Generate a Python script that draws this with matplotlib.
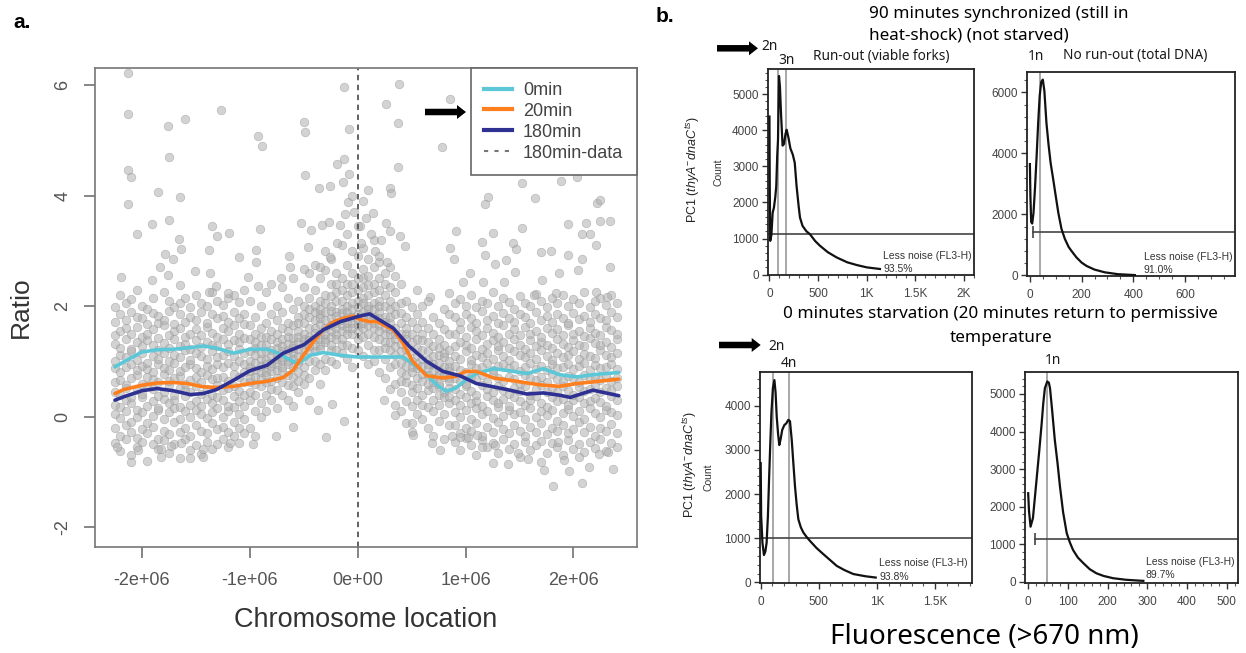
import numpy as np
import matplotlib
matplotlib.use("Agg")
import matplotlib.pyplot as plt
from matplotlib.patches import FancyArrow
from matplotlib.lines import Line2D
from matplotlib.transforms import Affine2D
from matplotlib.ticker import MultipleLocator

plt.rcParams["font.family"] = ["Liberation Sans", "DejaVu Sans"]
plt.rcParams["mathtext.fontset"] = "custom"
plt.rcParams["mathtext.rm"] = "Liberation Sans"
plt.rcParams["mathtext.it"] = "Liberation Sans:italic"
SANS = ["Noto Sans", "DejaVu Sans"]

W, H = 1246, 653

# ---------------------------------------------------------------- panel a data
# smoothed copy-number ratio along the chromosome (position in Mb)
pos_0min = [-2.25, -2.17, -2.00, -1.86, -1.71, -1.55, -1.43, -1.31, -1.15, -1.00, -0.84, -0.75,
            -0.63, -0.55, -0.44, -0.32, -0.16, 0.00, 0.18, 0.33, 0.42, 0.51, 0.64, 0.73, 0.82,
            0.91, 1.00, 1.10, 1.26, 1.41, 1.57, 1.72, 1.87, 2.03, 2.18, 2.42]
ratio_0min = [0.90, 0.99, 1.17, 1.21, 1.22, 1.25, 1.28, 1.24, 1.15, 1.22, 1.22, 1.16,
              1.03, 0.96, 1.11, 1.16, 1.11, 1.08, 1.08, 1.08, 1.08, 0.96, 0.76, 0.58, 0.46,
              0.52, 0.66, 0.78, 0.87, 0.83, 0.78, 0.87, 0.76, 0.72, 0.76, 0.80]

pos_20min = [-2.25, -2.17, -2.00, -1.86, -1.71, -1.58, -1.43, -1.31, -1.15, -1.00, -0.84, -0.69,
             -0.60, -0.50, -0.41, -0.32, -0.22, -0.13, -0.04, 0.02, 0.11, 0.18, 0.33, 0.42,
             0.51, 0.64, 0.79, 0.91, 1.00, 1.10, 1.26, 1.41, 1.57, 1.72, 1.87, 2.03, 2.18, 2.42]
ratio_20min = [0.42, 0.49, 0.57, 0.61, 0.62, 0.60, 0.54, 0.53, 0.55, 0.60, 0.64, 0.71,
               0.84, 1.12, 1.36, 1.57, 1.72, 1.78, 1.82, 1.76, 1.72, 1.72, 1.57, 1.33,
               1.00, 0.74, 0.70, 0.73, 0.82, 0.82, 0.70, 0.66, 0.61, 0.57, 0.55, 0.60, 0.63, 0.68]

pos_180min = [-2.25, -2.17, -2.00, -1.86, -1.71, -1.55, -1.43, -1.31, -1.15, -1.00, -0.84, -0.69,
              -0.50, -0.32, -0.16, 0.00, 0.11, 0.33, 0.48, 0.64, 0.79, 0.95, 1.10, 1.26, 1.41,
              1.57, 1.72, 1.87, 1.97, 2.18, 2.42]
ratio_180min = [0.30, 0.36, 0.47, 0.51, 0.47, 0.40, 0.42, 0.49, 0.66, 0.83, 0.93, 1.15,
                1.30, 1.57, 1.72, 1.81, 1.86, 1.60, 1.27, 1.00, 0.82, 0.74, 0.60, 0.54, 0.48,
                0.41, 0.43, 0.39, 0.35, 0.48, 0.38]

# per-probe ratios, grouped by position (Mb); values are ratio x 100
cloud_pos = [-2.25, -2.20, -2.15, -2.10, -2.05, -2.00, -1.95, -1.90, -1.85, -1.80, -1.75, -1.70,
             -1.65, -1.60, -1.55, -1.50, -1.45, -1.40, -1.35, -1.30, -1.25, -1.20, -1.15, -1.10,
             -1.05, -1.00, -0.95, -0.90, -0.85, -0.80, -0.75, -0.70, -0.65, -0.60, -0.55,
             -0.50, -0.45, -0.40, -0.35, -0.30, -0.25, -0.20, -0.15, -0.10, -0.05, 0.00, 0.05,
             0.10, 0.15, 0.20, 0.25, 0.30, 0.35, 0.40, 0.45, 0.50, 0.55, 0.60, 0.65, 0.70, 0.75,
             0.80, 0.85, 0.90, 0.95, 1.00, 1.05, 1.10, 1.15, 1.20, 1.25, 1.30, 1.35, 1.40, 1.45,
             1.50, 1.55, 1.60, 1.65, 1.70, 1.75, 1.80, 1.85, 1.90, 1.95, 2.00, 2.05, 2.10, 2.15,
             2.20, 2.25, 2.30, 2.35, 2.40]
cloud_ratio_x100 = [
    [-48, -20, 5, 22, 45, 63, 88, 100, 131, 148, 172, 198],
    [-62, -35, -2, 18, 40, 66, 80, 112, 125, 155, 185, 220],
    [-40, -15, 10, 30, 52, 58, 90, 108, 140, 160, 175, 205],
    [-70, -28, -10, 25, 35, 70, 95, 118, 122, 150, 190, 212],
    [-55, -38, 0, 12, 48, 75, 84, 102, 135, 162, 180, 230],
    [-45, -22, 8, 35, 42, 60, 92, 115, 128, 145, 178, 200],
    [-80, -30, -12, 20, 55, 72, 86, 98, 138, 150, 168, 195],
    [-50, -18, 2, 28, 50, 68, 80, 110, 130, 158, 188, 215],
    [-58, -40, 12, 15, 38, 62, 95, 105, 120, 142, 170, 182],
    [-42, -25, -5, 32, 45, 78, 88, 116, 134, 165, 175, 225],
    [-65, -32, 8, 25, 58, 65, 85, 100, 125, 148, 192, 210],
    [-50, -10, 15, 30, 40, 70, 98, 112, 140, 155, 168, 198],
    [-75, -28, -5, 18, 52, 74, 82, 108, 128, 160, 185, 205],
    [-40, -20, 10, 38, 48, 60, 90, 120, 132, 145, 172, 215],
    [-60, -35, 0, 22, 45, 66, 95, 102, 122, 150, 180, 198],
    [-52, -15, 12, 28, 55, 72, 88, 115, 138, 158, 175, 220],
    [-68, -25, 5, 20, 42, 62, 80, 110, 126, 148, 190, 205],
    [-45, -30, -2, 32, 50, 76, 92, 105, 135, 162, 170, 200],
    [-58, -12, 8, 25, 40, 68, 86, 118, 130, 152, 185, 225],
    [-50, -22, 15, 35, 58, 70, 95, 108, 128, 145, 178, 210],
    [-40, -18, 0, 30, 48, 72, 90, 112, 140, 160, 182, 202],
    [-55, -28, 10, 20, 52, 65, 98, 118, 132, 155, 172, 215],
    [-35, -10, 18, 38, 55, 78, 92, 110, 138, 165, 190, 220],
    [-48, -20, 5, 28, 46, 72, 100, 122, 135, 150, 178, 208],
    [-30, -5, 20, 40, 62, 80, 96, 115, 142, 168, 185, 230],
    [90, 45, 140, 70, -20, 118, 165, 30, 100, 62, 210, 82],
    [60, 125, 85, 10, 150, 98, 40, 180, 72, -35, 112, 135],
    [105, 70, 160, 25, 92, 130, 55, 200, 80, 115, 0, 145],
    [80, 145, 40, 118, 95, 170, 62, 10, 130, 102, 225, 75],
    [120, 65, 98, 155, 30, 110, 185, 82, 140, 50, 92, 240],
    [95, 150, 70, 125, 15, 105, 175, 85, 135, 48, 200, 112],
    [118, 82, 160, 40, 100, 140, 190, 62, 128, 108, 235, 90],
    [100, 145, 75, 120, 30, 170, 95, 215, 132, 58, 110, 155],
    [130, 90, 165, 55, 115, 195, 105, 142, 72, 250, 125, 20],
    [110, 155, 80, 135, 180, 45, 122, 210, 98, 145, 65, 170],
    [125, 170, 90, 140, 200, 60, 150, 110, 235, 132, 185, 75],
    [145, 100, 180, 128, 215, 70, 160, 118, 260, 138, 195, 30],
    [160, 118, 200, 140, 85, 175, 230, 130, 152, 275, 100, 190],
    [130, 185, 150, 95, 210, 168, 122, 250, 140, 195, 60, 178],
    [175, 140, 220, 160, 105, 190, 135, 265, 150, 205, 85, 300],
    [155, 200, 120, 178, 240, 145, 192, 100, 165, 285, 130, 218],
    [190, 150, 225, 170, 120, 210, 160, 260, 182, 95, 240, 140],
    [165, 210, 140, 195, 250, 175, 115, 230, 155, 310, 188, 130],
    [200, 160, 240, 180, 130, 220, 170, 275, 190, 105, 150, 330],
    [180, 225, 150, 205, 260, 170, 125, 240, 195, 300, 160, 90],
    [210, 165, 250, 185, 140, 230, 175, 290, 198, 120, 345, 155],
    [190, 235, 160, 215, 145, 268, 180, 110, 205, 305, 170, 250],
    [175, 220, 150, 200, 255, 130, 185, 285, 165, 95, 238, 195],
    [205, 160, 240, 180, 120, 225, 170, 270, 145, 195, 320, 100],
    [165, 210, 140, 190, 250, 120, 178, 230, 155, 80, 200, 280],
    [180, 135, 220, 160, 105, 200, 150, 260, 172, 70, 240, 125],
    [150, 195, 120, 170, 235, 90, 158, 210, 135, 50, 180, 270],
    [140, 185, 95, 160, 225, 60, 128, 200, 112, 255, 22, 150],
    [170, 80, 132, 205, 45, 118, 150, 98, 240, 10, 188, 65],
    [62, 150, 108, 180, 28, 122, 92, 210, 140, -12, 75, 160],
    [135, 45, 100, 172, 80, 118, -28, 150, 58, 198, 90, 20],
    [88, 160, 30, 112, 70, 140, 5, 95, 185, 52, 125, 230],
    [120, 65, 150, -5, 92, 40, 172, 105, 78, 22, 138, 200],
    [48, 102, 135, 75, 18, 160, 88, -20, 118, 60, 210, 95],
    [95, 30, 128, 70, 150, 52, -35, 110, 82, 180, 10, 62],
    [60, 112, 85, -8, 140, 40, 98, 75, 170, 22, 125, 55],
    [108, 45, 72, 130, 5, 90, 158, 35, 78, -40, 115, 195],
    [70, 120, 25, 90, 150, 52, -15, 100, 65, 185, 35, 82],
    [-45, -15, 8, 30, 50, 70, 92, 110, 128, 150, 180, 205],
    [-60, -30, 0, 22, 42, 64, 85, 105, 135, 158, 172, 212],
    [-38, -20, 12, 35, 55, 60, 80, 118, 130, 145, 185, 200],
    [-52, -25, -5, 25, 46, 72, 95, 102, 125, 162, 178, 220],
    [-70, -12, 15, 28, 40, 68, 88, 112, 140, 155, 170, 198],
    [-42, -35, 5, 20, 58, 75, 90, 108, 122, 148, 192, 210],
    [-55, -18, 10, 38, 50, 62, 98, 115, 132, 160, 175, 205],
    [-48, -28, -2, 30, 45, 78, 85, 105, 138, 152, 182, 225],
    [-65, -10, 18, 25, 55, 70, 92, 120, 128, 145, 170, 200],
    [-40, -22, 2, 32, 48, 65, 96, 110, 135, 165, 188, 215],
    [-58, -30, 12, 20, 42, 72, 88, 102, 125, 150, 178, 208],
    [-50, -15, 5, 35, 52, 68, 94, 118, 140, 158, 172, 195],
    [-72, -25, 8, 28, 46, 60, 82, 112, 130, 148, 185, 218],
    [-45, -35, -5, 22, 55, 75, 90, 108, 122, 162, 180, 205],
    [-60, -18, 15, 30, 40, 70, 98, 115, 138, 150, 170, 200],
    [-52, -28, 0, 38, 50, 66, 86, 105, 128, 155, 190, 222],
    [-44, -12, 10, 25, 58, 72, 92, 120, 135, 145, 175, 210],
    [-66, -32, 4, 18, 45, 62, 84, 110, 130, 160, 182, 198],
    [-48, -20, 12, 35, 52, 78, 95, 102, 125, 152, 172, 215],
    [-55, -26, -8, 28, 44, 68, 88, 116, 140, 158, 186, 205],
    [-70, -15, 6, 32, 56, 64, 90, 108, 132, 148, 178, 220],
    [-42, -30, 14, 22, 48, 74, 96, 112, 126, 165, 170, 200],
    [-58, -22, 2, 30, 40, 70, 86, 118, 138, 150, 188, 212],
    [-50, -10, 10, 36, 54, 62, 92, 104, 130, 155, 176, 205],
    [-64, -28, -4, 24, 46, 76, 98, 114, 128, 146, 182, 225],
    [-46, -18, 16, 28, 50, 68, 84, 110, 142, 160, 172, 198],
    [-56, -34, 6, 34, 58, 72, 94, 106, 134, 152, 186, 210],
    [-40, -20, 0, 26, 44, 66, 88, 120, 130, 148, 178, 215],
    [-62, -25, 12, 20, 52, 74, 90, 112, 136, 162, 174, 202],
    [-48, -14, 8, 38, 48, 64, 96, 108, 126, 156, 190, 220],
    [-54, -30, 4, 30, 56, 70, 86, 116, 140, 150, 180, 205],
]

# isolated probes away from the main band (position in Mb, ratio)
outlier_pos = [
    -2.13, -2.13, -1.76, -1.60, -1.27, -0.92, -0.89, -0.50, -0.49, -0.13, -0.08, -1.75, -2.13,
    -2.10, -2.13, -1.85, -1.65, -1.75, -2.05, -1.91, -0.49, -0.36, -0.26, -0.19, -0.13, -0.08,
    -0.14, -0.09, -0.12, -0.53, -0.43, -0.33, -0.27, -0.16, -1.35, -1.30, -1.19, -0.91, -1.66,
    -1.64, -1.79, -1.71, -1.38, -1.10, -0.94, -0.94, -0.64, -0.46, -0.26, -0.19, -2.19, -1.91,
    -1.83, -1.76, -1.51, -1.37, -1.31, -1.02, -0.92, -0.71, -0.63, -0.50, -0.35, -1.65, -1.38,
    -1.20,
    0.38, 0.26, 0.37, 0.86, 0.78, 0.37, 2.12, 2.22, 2.30, 1.52, 1.88, 2.03, 0.30, 0.31, 1.21,
    1.18, 1.64, 2.22, 2.25, 0.14, 0.26, 0.30, 1.95, 2.12, 2.25, 2.34, 0.91, 1.25, 1.52, 2.08,
    2.15, 0.39, 0.44, 0.86, 1.15, 1.44, 1.47, 1.79, 1.70, 2.21, 0.89, 1.18, 1.27, 1.37, 1.95,
    2.08, 2.34, 1.04, 1.46, 1.71, 1.87, 2.04, 0.98, 1.16, 1.36, 0.67, 0.85, 1.63, 1.84, 2.21,
    2.31,
    0.05, 0.08, 0.12, 0.16, 0.03, 0.20, -0.03, 0.10, 0.22, 0.27, -0.05, 0.02,
    -2.10, -2.23, -2.04, -1.82, -1.82, -1.73, -1.64, -1.55, -1.43, -1.43, -1.18, -0.97, -0.76,
    -0.60, -0.29, -0.13, -0.37, -0.24,
    1.81, 2.08, 2.37, 1.25, 1.39, 1.73, 1.96, 2.14, 2.24, 2.32, 1.58, 1.70, 1.49, 2.05, 0.51,
    0.50, 0.69, 0.76, 0.35, 0.24, 0.87, 0.95, 1.02, 1.11, 1.27, 1.15, 1.86, 1.91]
outlier_ratio = [
    6.22, 5.47, 5.26, 5.38, 5.55, 5.08, 4.90, 5.33, 5.14, 5.97, 5.21, 4.69, 4.47,
    4.34, 3.84, 4.07, 3.98, 3.56, 3.30, 3.48, 4.37, 4.13, 4.17, 4.57, 4.66, 4.39,
    4.24, 3.89, 3.67, 3.50, 3.38, 3.47, 3.52, 3.47, 3.44, 3.26, 3.32, 3.39, 3.21,
    3.03, 2.95, 2.85, 3.01, 2.89, 3.01, 2.80, 2.91, 3.06, 2.89, 3.15, 2.53, 2.48,
    2.70, 2.57, 2.64, 2.60, 2.36, 2.53, 2.36, 2.50, 2.70, 2.68, 2.71, 2.38, 2.26,
    2.23,
    6.02, 5.65, 5.31, 5.74, 4.87, 4.51, 6.28, 5.97, 5.62, 4.23, 4.27, 4.34, 4.13, 4.04, 3.98,
    3.85, 3.95, 3.86, 3.91, 3.68, 3.50, 3.35, 3.48, 3.50, 3.54, 3.53, 3.35, 3.33, 3.41, 3.30,
    3.30, 3.26, 3.09, 3.05, 3.16, 3.15, 3.03, 3.00, 2.98, 3.10, 2.85, 2.92, 2.76, 2.83, 2.92,
    2.85, 2.71, 2.59, 2.62, 2.47, 2.59, 2.65, 2.44, 2.44, 2.44, 2.17, 2.23, 2.20, 2.23, 2.26,
    2.17,
    3.90, 3.60, 3.30, 3.00, 3.15, 2.90, 3.70, 4.10, 3.20, 2.80, 4.00, 3.45,
    -0.81, -0.54, -0.61, -0.72, -0.59, -0.53, -0.48, -0.74, -0.72, -0.59, -0.47, -0.49, -0.35,
    -0.18, -0.37, -0.07, 0.12, 0.23,
    -1.25, -1.20, -0.95, -0.83, -0.85, -0.97, -0.99, -0.90, -0.67, -0.63, -0.77, -0.81, -0.66,
    -0.72, -0.33, -0.11, -0.47, -0.61, 0.03, 0.31, -0.35, -0.37, -0.36, -0.33, -0.51, -0.54,
    -0.45, -0.78]

series_labels = ["0min", "20min", "180min", "180min-data"]
series_colors = ["#5cc8d7", "#ff7f1f", "#2e3192"]
xticks_a = [-2e6, -1e6, 0, 1e6, 2e6]
xticklabels_a = ["-2e+06", "-1e+06", "0e+00", "1e+06", "2e+06"]
yticks_a = [-2, 0, 2, 4, 6]

# ---------------------------------------------------------------- panel b data
# FL3-H histograms (fluorescence, count)
tl_fluor = [0, 3, 8, 20, 33, 46, 60, 70, 80, 88, 98, 108, 120, 135, 150, 165, 177, 195, 215,
            240, 260, 279, 300, 314, 340, 380, 416, 470, 519, 600, 691, 800, 897, 1000, 1136]
tl_count = [4380, 2500, 935, 1100, 1715, 1855, 2150, 2450, 3300, 3740, 5505, 5200, 4400, 3575,
            3620, 3900, 4015, 3800, 3500, 3325, 3100, 2450, 1900, 1580, 1350, 1200, 1120, 930,
            800, 620, 475, 340, 265, 200, 155]

tr_fluor = [0, 2, 5, 9, 14, 20, 26, 32, 38, 44, 50, 56, 64, 72, 80, 90, 100, 110, 122, 135,
            150, 161, 180, 200, 219, 250, 290, 340, 406]
tr_count = [3650, 2600, 1750, 1700, 2050, 2900, 3900, 5000, 5900, 6350, 6420, 6050, 5000, 4300,
            3700, 3160, 2600, 2050, 1530, 1200, 930, 800, 590, 420, 310, 190, 100, 40, 10]

bl_fluor = [0, 4, 15, 28, 40, 51, 62, 72, 82, 92, 105, 118, 128, 138, 150, 160, 172, 185, 203,
            220, 238, 252, 267, 281, 295, 310, 324, 345, 367, 395, 424, 480, 539, 600, 654,
            720, 797, 900, 990]
bl_count = [2700, 1500, 900, 620, 700, 900, 1500, 2330, 3100, 3830, 4400, 4580, 4300, 3750,
            3350, 3110, 3250, 3450, 3560, 3600, 3680, 3650, 3230, 2700, 2180, 1750, 1430,
            1250, 1130, 1030, 940, 780, 640, 500, 375, 280, 190, 140, 110]

br_fluor = [0, 2, 6, 12, 21, 28, 34, 38, 42, 48, 52, 55, 60, 67, 74, 80, 88, 97, 105, 113,
            125, 139, 155, 172, 190, 214, 245, 281, 290]
br_count = [2360, 1900, 1470, 1700, 2710, 3500, 4220, 4750, 5150, 5330, 5300, 5150, 4600, 3780,
            3150, 2540, 1850, 1300, 1050, 850, 650, 500, 340, 230, 160, 100, 60, 35, 30]

ploidy_tl = [84, 170]
ploidy_tr = [39]
ploidy_bl = [109, 244]
ploidy_br = [48]
gate_tl, gate_tr, gate_bl, gate_br = 1124, 1428, 1000, 1144
gated_pct = ["93.5%", "91.0%", "93.8%", "89.7%"]

# ---------------------------------------------------------------- figure
fig = plt.figure(figsize=(W / 100, H / 100), dpi=100)
pix = Affine2D().scale(1 / W, -1 / H).translate(0, 1) + fig.transFigure


def axes_px(x0, y0, x1, y1):
    return fig.add_axes([x0 / W, 1 - y1 / H, (x1 - x0) / W, (y1 - y0) / H])


def text_px(x, y, s, **kw):
    kw.setdefault("va", "center")
    return fig.text(x / W, 1 - y / H, s, **kw)


def arrow_px(x0, x1, y):
    fig.add_artist(FancyArrow(x0, y, x1 - x0, 0, width=6.5, head_width=14, head_length=9,
                              length_includes_head=True, color="black", lw=0,
                              transform=pix))


# ---- panel a
ax = axes_px(95, 68.3, 636.7, 546.7)
cx, cy = [], []
for p, col in zip(cloud_pos, cloud_ratio_x100):
    cx += [p * 1e6] * len(col)
    cy += [v / 100 for v in col]
cx += list(np.array(outlier_pos) * 1e6)
cy += list(outlier_ratio)
ax.scatter(cx, cy, s=38, facecolor="#b0b0b0", edgecolor="#959595", linewidths=0.5,
           alpha=0.55, zorder=1)
ax.axvline(0, color="#555555", ls=(0, (3, 2.5)), lw=1.3, zorder=2)
for pos, rat, col in [(pos_0min, ratio_0min, series_colors[0]),
                      (pos_20min, ratio_20min, series_colors[1]),
                      (pos_180min, ratio_180min, series_colors[2])]:
    ax.plot(np.array(pos) * 1e6, rat, color=col, lw=2.6, solid_joinstyle="round",
            solid_capstyle="round", zorder=3)
ax.set_xlim(-2.435e6, 2.586e6)
ax.set_ylim(-2.35, 6.30)
ax.set_xticks(xticks_a)
ax.set_xticklabels(xticklabels_a)
ax.set_yticks(yticks_a)
ax.set_yticklabels([str(v) for v in yticks_a], rotation=90, va="center")
ax.tick_params(direction="out", length=8, width=1.1, color="#666666", labelcolor="#555555",
               labelsize=13)
ax.tick_params(axis="x", pad=10)
ax.tick_params(axis="y", pad=9)
for sp in ax.spines.values():
    sp.set_color("#777777")
    sp.set_linewidth(1.2)

handles = [Line2D([], [], color=c, lw=3) for c in series_colors]
handles.append(Line2D([], [], color="#777777", lw=1.5, ls=(0, (2, 3))))
leg = ax.legend(handles, series_labels, loc="upper right", bbox_to_anchor=(1, 1),
                borderaxespad=0, frameon=True, fancybox=False, edgecolor="#666666",
                framealpha=1, fontsize=13, handlelength=1.55, handletextpad=0.6,
                borderpad=0.75, labelspacing=0.22)
leg.get_frame().set_linewidth(1.2)
for t in leg.get_texts():
    t.set_color("#444444")

text_px(20.5, 307, "Ratio", rotation=90, ha="center", fontsize=19, color="#333333")
text_px(366, 620, "Chromosome location", ha="center", fontsize=19.5, color="#333333")
text_px(13, 23, "a.", ha="left", fontsize=15, fontweight="bold")
arrow_px(425, 466, 112)


# ---- panel b
def flow_panel(rect, fl, cnt, xlim, ylim, xt, xtl, yt, xminor, yminor, marks, gate, gate_x0,
               cap):
    a = axes_px(*rect)
    a.plot(fl, cnt, color="#111111", lw=1.6, zorder=3)
    for m in marks:
        a.axvline(m, color="#9a9a9a", lw=1.2, zorder=2)
    a.plot([gate_x0, xlim[1]], [gate, gate], color="#444444", lw=1.2, zorder=2)
    if cap:
        a.plot([gate_x0], [gate], marker="|", ms=8, mew=1.2, color="#444444", zorder=2)
    a.set_xlim(xlim)
    a.set_ylim(ylim)
    a.set_xticks(xt)
    a.set_xticklabels(xtl)
    a.set_yticks(yt)
    a.set_yticklabels([str(v) for v in yt])
    a.xaxis.set_minor_locator(MultipleLocator(xminor))
    a.yaxis.set_minor_locator(MultipleLocator(yminor))
    a.tick_params(which="major", direction="out", length=4, width=1, color="#333333",
                  labelsize=8.5, labelcolor="#444444")
    a.tick_params(which="minor", direction="out", length=2.5, width=0.8, color="#555555")
    a.tick_params(axis="x", pad=5)
    a.tick_params(axis="y", pad=2.5)
    for sp in a.spines.values():
        sp.set_color("#222222")
        sp.set_linewidth(1.3)
    return a


flow_panel((767.7, 69.3, 974, 275.3), tl_fluor, tl_count, (-18, 2103), (-20, 5690),
           [0, 500, 1000, 1500, 2000], ["0", "500", "1K", "1.5K", "2K"],
           [0, 1000, 2000, 3000, 4000, 5000], 100, 200, ploidy_tl, gate_tl, 0, False)
flow_panel((1027.3, 71.7, 1235, 276), tr_fluor, tr_count, (-10, 793), (-20, 6680),
           [0, 200, 400, 600], ["0", "200", "400", "600"],
           [0, 2000, 4000, 6000], 50, 400, ploidy_tr, gate_tr, 12, True)
flow_panel((760, 371.7, 971.7, 583.3), bl_fluor, bl_count, (-6, 1816), (-20, 4770),
           [0, 500, 1000, 1500], ["0", "500", "1K", "1.5K"],
           [0, 1000, 2000, 3000, 4000], 100, 200, ploidy_bl, gate_bl, 0, False)
flow_panel((1025, 371.7, 1238.3, 583.3), br_fluor, br_count, (-8, 529), (-35, 5590),
           [0, 100, 200, 300, 400, 500], ["0", "100", "200", "300", "400", "500"],
           [0, 1000, 2000, 3000, 4000, 5000], 20, 200, ploidy_br, gate_br, 17, True)

# gate annotations
for (x, y), pct in zip([(883, 256), (1144, 256.7), (879.3, 563.3), (1146, 561.7)], gated_pct):
    text_px(x, y, "Less noise (FL3-H)", ha="left", fontsize=7.5, color="#333333")
    text_px(x, y + 13.5, pct, ha="left", fontsize=7.5, color="#333333")

# axis titles of the histograms
ylab = r"PC1 ($\mathit{thyA}^{-}\mathit{dnaC}^{ts}$)"
text_px(693, 170, ylab, rotation=90, ha="center", fontsize=9, color="#222222")
text_px(718, 172, "Count", rotation=90, ha="center", fontsize=7.5, color="#333333")
text_px(690, 465, ylab, rotation=90, ha="center", fontsize=9, color="#222222")
text_px(709, 477, "Count", rotation=90, ha="center", fontsize=7.5, color="#333333")

# condition titles
text_px(868.6, 13.5, "90 minutes synchronized (still in", ha="left", fontsize=12.3,
        family=SANS)
text_px(868.6, 35, "heat-shock) (not starved)", ha="left", fontsize=12.3, family=SANS)
text_px(1000.5, 314, "0 minutes starvation (20 minutes return to permissive", ha="center",
        fontsize=12.3, family=SANS)
text_px(1001, 338, "temperature", ha="center", fontsize=12.3, family=SANS)
text_px(812.7, 56.7, "Run-out (viable forks)", ha="left", fontsize=9.8, family=SANS,
        color="#1a1a1a")
text_px(1063, 55, "No run-out (total DNA)", ha="left", fontsize=9.8, family=SANS,
        color="#1a1a1a")

# ploidy labels
for x, y, s in [(770, 47, "2n"), (786.5, 60, "3n"), (1036, 57, "1n"),
                (776.5, 346, "2n"), (789, 363.5, "4n"), (1052.5, 360, "1n")]:
    text_px(x, y, s, ha="center", fontsize=10, family=SANS, color="#1a1a1a")
arrow_px(717, 758, 48.3)
arrow_px(719, 760.7, 345)

text_px(984.6, 636.7, "Fluorescence (>670 nm)", ha="center", fontsize=20, family=SANS)
text_px(656, 17, "b.", ha="left", fontsize=15, fontweight="bold")

fig.savefig("out.png", dpi=100, facecolor="white")
